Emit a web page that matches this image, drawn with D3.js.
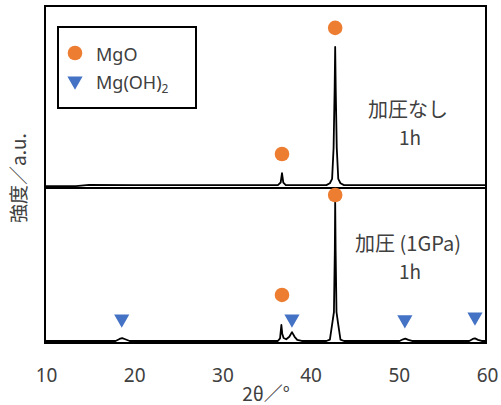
<!DOCTYPE html>
<html>
<head>
<meta charset="utf-8">
<script src="https://cdn.jsdelivr.net/npm/d3@7"></script>
<style>
  html, body { margin: 0; padding: 0; background: #fff; }
  svg { display: block; }
  text { font-family: "Noto Sans CJK JP", "Noto Sans", sans-serif; fill: #404040; }
</style>
</head>
<body>
<svg id="chart" width="501" height="405"></svg>
<script>
// X-ray diffraction traces: [2θ (deg), intensity (a.u.)]
const tickValues = [10, 20, 30, 40, 50, 60];

// Upper trace: no pressure, 1 h
const traceNoPressure = [
  [10, 1.0], [13.5, 1.0], [15, 1.7], [20, 1.6], [30, 1.6], [36.4, 1.6],
  [36.72, 3.0], [36.87, 8.2], [37.02, 3.0], [37.3, 1.6],
  [41.9, 1.6], [42.3, 2.6], [42.55, 5], [42.72, 22], [42.84, 55], [42.9, 77.5],
  [42.96, 55], [43.08, 22], [43.25, 5], [43.5, 2.6], [43.9, 1.6],
  [50, 1.6], [60, 1.6]
];

// Lower trace: pressed at 1 GPa, 1 h
const tracePressed = [
  [10, 1.3], [18.0, 1.3], [18.45, 2.6], [18.75, 3.2], [19.1, 2.4], [19.6, 1.3],
  [36.4, 1.3], [36.65, 3.0], [36.8, 11.6], [36.9, 6], [37.05, 3.2], [37.35, 2.4],
  [37.7, 4.0], [38.0, 7.0], [38.3, 4.0], [38.6, 2.0], [39.1, 1.3],
  [41.9, 1.3], [42.3, 2.2], [42.45, 8], [42.58, 13], [42.76, 20], [42.86, 60], [42.9, 92],
  [42.95, 60], [43.05, 20], [43.22, 13], [43.35, 8], [43.5, 2.2], [43.9, 1.3],
  [50.2, 1.3], [50.6, 2.4], [50.85, 2.8], [51.2, 2.0], [51.6, 1.3],
  [58.1, 1.3], [58.5, 2.6], [58.75, 3.0], [59.1, 2.0], [59.5, 1.3], [60, 1.3]
];

// Phase markers: [2θ, marker height]
const mgoNoPressure = [[42.9, 88], [36.87, 18.7]];
const mgoPressed = [[42.9, 95.5], [36.87, 31]];
const mgOH2Pressed = [[18.7, 15.5], [38.0, 15.5], [50.8, 15], [58.75, 16.8]];

const legendLabels = ["MgO", "Mg(OH)"];
const panelLabels = [["加圧なし", "1h"], ["加圧 (1GPa)", "1h"]];

const colorMgO = "#ED7D31";
const colorMgOH2 = "#4472C4";

const svg = d3.select("#chart");
const plotLeft = 45, plotRight = 486, plotTop = 6, plotMid = 188, plotBottom = 343;

const x = d3.scaleLinear().domain([10, 60]).range([plotLeft, plotRight]);
const yTop = d3.scaleLinear().domain([0, 100]).range([plotMid, plotTop]);
const yBot = d3.scaleLinear().domain([0, 100]).range([plotBottom, plotMid]);

const circle = d3.symbol().type(d3.symbolCircle).size(Math.PI * 7.3 * 7.3);
const triangle = d3.symbol().type(d3.symbolTriangle).size(100);

// traces
function drawTrace(data, y) {
  const line = d3.line().x(d => x(d[0])).y(d => y(d[1]));
  svg.append("path").datum(data)
    .attr("d", line)
    .attr("fill", "none")
    .attr("stroke", "#000")
    .attr("stroke-width", 1.8)
    .attr("stroke-linejoin", "round");
}
drawTrace(traceNoPressure, yTop);
drawTrace(tracePressed, yBot);

// frame and panel divider
svg.append("rect")
  .attr("x", plotLeft).attr("y", plotTop)
  .attr("width", plotRight - plotLeft).attr("height", plotBottom - plotTop)
  .attr("fill", "none").attr("stroke", "#000").attr("stroke-width", 2);
svg.append("line")
  .attr("x1", plotLeft).attr("x2", plotRight).attr("y1", plotMid).attr("y2", plotMid)
  .attr("stroke", "#000").attr("stroke-width", 2);

// x axis labels (no tick marks)
const xAxis = d3.axisBottom(x).tickValues(tickValues).tickSize(0).tickPadding(0);
const gx = svg.append("g").attr("transform", `translate(1,${plotBottom})`).call(xAxis);
gx.select(".domain").remove();
gx.selectAll("text")
  .attr("y", 39).attr("dy", null)
  .style("font-family", "'Noto Sans', sans-serif")
  .style("font-size", "19px")
  .attr("fill", "#404040");

// markers
function drawMarkers(data, y, sym, color, rotate) {
  svg.append("g").selectAll("path").data(data).join("path")
    .attr("d", sym)
    .attr("transform", d => `translate(${x(d[0])},${y(d[1])})${rotate ? " rotate(180)" : ""}`)
    .attr("fill", color);
}
drawMarkers(mgoNoPressure, yTop, circle, colorMgO, false);
drawMarkers(mgoPressed, yBot, circle, colorMgO, false);
drawMarkers(mgOH2Pressed, yBot, triangle, colorMgOH2, true);

// panel annotations
const ann = [[panelLabels[0], 117, 145], [panelLabels[1], 251, 279]];
ann.forEach(([lines, y1, y2]) => {
  svg.append("text").attr("x", 408).attr("y", y1)
    .attr("text-anchor", "middle").style("font-size", "20px").text(lines[0]);
  svg.append("text").attr("x", 410).attr("y", y2)
    .attr("text-anchor", "middle").style("font-size", "19px").text(lines[1]);
});

// legend
const lg = svg.append("g");
lg.append("rect").attr("x", 58).attr("y", 27).attr("width", 138).attr("height", 81)
  .attr("fill", "#fff").attr("stroke", "#000").attr("stroke-width", 2);
lg.append("path").attr("d", circle).attr("transform", "translate(75,53)").attr("fill", colorMgO);
lg.append("path").attr("d", triangle).attr("transform", "translate(75,81) rotate(180)").attr("fill", colorMgOH2);
lg.append("text").attr("x", 96).attr("y", 61).style("font-size", "18px")
  .style("font-family", "'Noto Sans', sans-serif").text(legendLabels[0]);
const t2 = lg.append("text").attr("x", 96).attr("y", 89).style("font-size", "18px")
  .style("font-family", "'Noto Sans', sans-serif").text(legendLabels[1]);
t2.append("tspan").attr("dy", 4).style("font-size", "12px").text("2");

// axis titles
svg.append("text").attr("x", 266).attr("y", 401).attr("text-anchor", "middle")
  .style("font-size", "19px").text("2θ／°");
svg.append("text")
  .attr("transform", "translate(26,178) rotate(-90)")
  .attr("text-anchor", "middle").style("font-size", "19px").text("強度／a.u.");
</script>
</body>
</html>
